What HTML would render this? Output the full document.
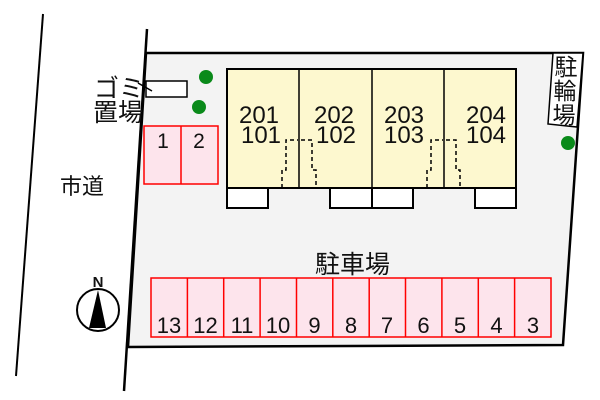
<!DOCTYPE html>
<html><head><meta charset="utf-8"><style>
html,body{margin:0;padding:0;background:#fff;width:600px;height:400px;overflow:hidden}
text{font-family:"Liberation Sans","Noto Sans CJK JP",sans-serif;fill:#111}
</style></head><body>
<svg width="600" height="400" viewBox="0 0 600 400" xmlns="http://www.w3.org/2000/svg">
<line x1="43" y1="14" x2="16" y2="376" stroke="#000" stroke-width="2"/>
<polygon points="146,53 583,53 563,345 128,347" fill="#f3f3f3" stroke="#000" stroke-width="2.5"/>
<line x1="147" y1="29" x2="124" y2="391" stroke="#000" stroke-width="2.5"/>
<polygon points="553,53 583,53 577,127 548,124" fill="#fff" stroke="#000" stroke-width="1.5"/>
<text x="566" y="75" font-size="23" text-anchor="middle">駐</text>
<text x="565" y="99" font-size="23" text-anchor="middle">輪</text>
<text x="564" y="123" font-size="23" text-anchor="middle">場</text>
<rect x="146" y="81" width="41" height="16" fill="#fff" stroke="#000" stroke-width="1.5"/>
<line x1="138" y1="83" x2="152" y2="91" stroke="#000" stroke-width="1.5"/>
<text x="94" y="97" font-size="25">ゴミ</text>
<text x="93" y="121" font-size="25">置場</text>
<circle cx="206" cy="77" r="7" fill="#0a8a1a"/>
<circle cx="199" cy="107" r="7" fill="#0a8a1a"/>
<circle cx="568" cy="143" r="7" fill="#0a8a1a"/>
<path d="M227,69 H516 V208 H475 V188 H413 V208 H330 V188 H268 V208 H227 Z" fill="#fdf8cf" stroke="#000" stroke-width="2"/>
<g fill="#fff" stroke="#000" stroke-width="2">
<rect x="227" y="188" width="41" height="20"/>
<rect x="330" y="188" width="42" height="20"/>
<rect x="372" y="188" width="41" height="20"/>
<rect x="475" y="188" width="41" height="20"/>
</g>
<g stroke="#000" stroke-width="1.5">
<line x1="299" y1="69" x2="299" y2="188"/>
<line x1="372" y1="69" x2="372" y2="208"/>
<line x1="444" y1="69" x2="444" y2="188"/>
</g>
<g fill="none" stroke="#000" stroke-width="1.5" stroke-dasharray="4,3">
<path d="M282,188 V170 H286 V140 H298"/>
<path d="M301,140 H312 V170 H316 V188"/>
<path d="M427,188 V170 H431 V140 H443"/>
<path d="M446,140 H456 V170 H460 V188"/>
</g>
<g font-size="24" text-anchor="middle">
<text x="259" y="123">201</text><text x="261" y="143">101</text>
<text x="334" y="123">202</text><text x="336" y="143">102</text>
<text x="404" y="123">203</text><text x="404" y="143">103</text>
<text x="486" y="123">204</text><text x="486" y="143">104</text>
</g>
<rect x="144" y="126" width="74" height="58" fill="#fde4ec" stroke="#f00" stroke-width="1.5"/>
<line x1="181" y1="126" x2="181" y2="184" stroke="#f00" stroke-width="1.5"/>
<text x="163" y="148" font-size="21" text-anchor="middle">1</text>
<text x="199" y="148" font-size="21" text-anchor="middle">2</text>
<text x="60" y="194" font-size="22">市道</text>
<text x="315" y="273" font-size="25">駐車場</text>
<rect x="151" y="278" width="400" height="59" fill="#fde4ec" stroke="#f00" stroke-width="1.5"/>
<g stroke="#f00" stroke-width="1.5">
<line x1="187.4" y1="278" x2="187.4" y2="337"/><line x1="223.7" y1="278" x2="223.7" y2="337"/>
<line x1="260.1" y1="278" x2="260.1" y2="337"/><line x1="296.5" y1="278" x2="296.5" y2="337"/>
<line x1="332.8" y1="278" x2="332.8" y2="337"/><line x1="369.2" y1="278" x2="369.2" y2="337"/>
<line x1="405.5" y1="278" x2="405.5" y2="337"/><line x1="441.9" y1="278" x2="441.9" y2="337"/>
<line x1="478.3" y1="278" x2="478.3" y2="337"/><line x1="514.6" y1="278" x2="514.6" y2="337"/>
</g>
<g font-size="22" text-anchor="middle">
<text x="169" y="333">13</text><text x="205.5" y="333">12</text><text x="242" y="333">11</text>
<text x="278" y="333">10</text><text x="314.5" y="333">9</text><text x="351" y="333">8</text>
<text x="387" y="333">7</text><text x="423.5" y="333">6</text><text x="460" y="333">5</text>
<text x="496.5" y="333">4</text><text x="533" y="333">3</text>
</g>
<circle cx="98" cy="310" r="21" fill="#fff" stroke="#000" stroke-width="2"/>
<polygon points="98,290 89,328 106,328" fill="#000"/>
<text x="98" y="287" font-size="15" font-weight="bold" text-anchor="middle">N</text>
</svg>
</body></html>
